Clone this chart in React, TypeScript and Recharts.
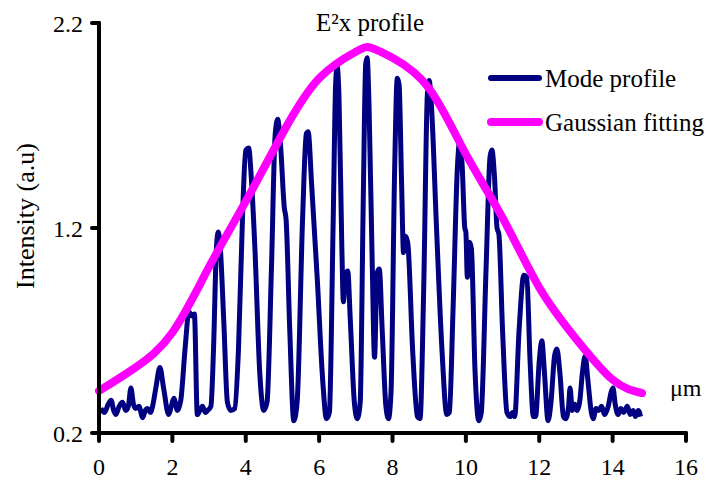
import React from 'react';
import { LineChart, Line, XAxis, YAxis } from 'recharts';

// Measured mode profile (position in µm, intensity in a.u.)
const modeX = [
  0.05, 0.15, 0.25, 0.33, 0.4, 0.46, 0.55, 0.64, 0.73, 0.8, 0.87, 0.94, 1.0, 1.09, 1.19, 1.26, 1.32, 1.4, 1.46,
  1.55, 1.66, 1.76, 1.9, 1.97, 2.04, 2.14, 2.23, 2.35, 2.45, 2.55, 2.6, 2.68, 2.75, 2.82, 2.9, 2.96, 3.05,
  3.12, 3.2, 3.25, 3.3, 3.4, 3.5, 3.59, 3.7, 3.8, 3.92, 4.0, 4.08, 4.15, 4.25, 4.38, 4.49, 4.58, 4.7, 4.8,
  4.87, 4.95, 5.05, 5.1, 5.2, 5.31, 5.4, 5.55, 5.65, 5.7, 5.8, 5.95, 6.1, 6.2, 6.28, 6.38, 6.45, 6.49, 6.54,
  6.62, 6.66, 6.72, 6.78, 6.85, 6.96, 7.04, 7.12, 7.2, 7.27, 7.31, 7.36, 7.45, 7.51, 7.58, 7.64, 7.72, 7.82,
  7.89, 7.96, 8.06, 8.13, 8.18, 8.25, 8.3, 8.36, 8.42, 8.55, 8.68, 8.75, 8.85, 8.95, 9.0, 9.06, 9.2, 9.35,
  9.48, 9.55, 9.65, 9.77, 9.83, 9.9, 9.97, 10.0, 10.04, 10.1, 10.15, 10.25, 10.35, 10.42, 10.55, 10.66,
  10.71, 10.78, 10.85, 10.9, 11.0, 11.12, 11.21, 11.27, 11.33, 11.45, 11.58, 11.66, 11.75, 11.84, 11.9,
  12.0, 12.07, 12.14, 12.24, 12.32, 12.42, 12.48, 12.56, 12.66, 12.72, 12.8, 12.84, 12.9, 12.97, 13.03,
  13.1, 13.18, 13.25, 13.33, 13.42, 13.47, 13.55, 13.62, 13.7, 13.78, 13.88, 13.96, 14.01, 14.07, 14.15,
  14.22, 14.3, 14.4, 14.48, 14.56, 14.62, 14.7, 14.76,
];
const modeY = [
  0.32, 0.3, 0.34, 0.36, 0.31, 0.29, 0.33, 0.35, 0.31, 0.33, 0.42, 0.34, 0.32, 0.33, 0.275, 0.31, 0.32, 0.3, 0.33,
  0.42, 0.52, 0.42, 0.29, 0.33, 0.37, 0.31, 0.36, 0.62, 0.79, 0.77, 0.78, 0.29, 0.31, 0.33, 0.3, 0.31, 0.33,
  0.6, 1.1, 1.18, 1.12, 0.75, 0.35, 0.31, 0.32, 0.6, 1.3, 1.58, 1.59, 1.45, 1.1, 0.5, 0.31, 0.35, 1.0, 1.65,
  1.73, 1.6, 1.3, 1.24, 0.7, 0.26, 0.35, 1.25, 1.66, 1.67, 1.4, 0.95, 0.45, 0.27, 0.3, 1.2, 1.9, 1.99, 1.85,
  1.1, 0.84, 0.97, 0.99, 0.75, 0.35, 0.27, 0.35, 1.3, 2.0, 2.03, 1.8, 1.0, 0.57, 0.98, 1.0, 0.7, 0.33,
  0.27, 0.4, 1.5, 1.93, 1.9, 1.4, 1.08, 1.16, 1.12, 0.6, 0.28, 0.27, 0.9, 1.85, 1.92, 1.8, 1.2, 0.6,
  0.29, 0.3, 0.8, 1.5, 1.62, 1.5, 1.2, 1.18, 0.96, 1.13, 1.1, 0.5, 0.26, 0.3, 1.0, 1.55,
  1.58, 1.45, 1.2, 1.17, 0.7, 0.3, 0.28, 0.3, 0.28, 0.7, 0.97, 0.96, 0.55, 0.28, 0.28,
  0.55, 0.65, 0.5, 0.26, 0.35, 0.58, 0.61, 0.5, 0.28, 0.27, 0.33, 0.42, 0.31, 0.34, 0.31,
  0.35, 0.5, 0.575, 0.45, 0.3, 0.27, 0.32, 0.31, 0.33, 0.29, 0.33, 0.4, 0.42, 0.34, 0.29,
  0.32, 0.3, 0.33, 0.29, 0.31, 0.28, 0.31, 0.28,
];

// Gaussian fit of the profile
const fitX = [0, 1, 2, 3, 4, 5, 6, 7, 7.4, 8, 9, 10, 11, 12, 13, 14, 14.8];
const fitY = [0.405, 0.52, 0.69, 1.01, 1.33, 1.66, 1.93, 2.06, 2.08, 2.03, 1.88, 1.56, 1.25, 0.91, 0.66, 0.46, 0.395];

const xTicks = [0, 2, 4, 6, 8, 10, 12, 14, 16];
const yTicks = [0.2, 1.2, 2.2];

const modeData = modeX.map((x, i) => ({ x, y: modeY[i] }));
const fitData = fitX.map((x, i) => ({ x, y: fitY[i] }));

const FONT = "'Liberation Serif', 'Times New Roman', serif";
const NAVY = '#000080';
const MAGENTA = '#FF00FF';
const tickStyle = { fontFamily: FONT, fontSize: 24, fill: '#000' };
const textStyle = { fontFamily: FONT, fontSize: 25, fill: '#000' };
const axisTitleStyle = { fontFamily: FONT, fontSize: 26, fill: '#000' };

export default function App() {
  return (
    <div
      style={{
        position: 'absolute',
        left: 0,
        top: 0,
        width: 708,
        height: 488,
        background: '#fff',
        fontFamily: FONT,
      }}
    >
      <LineChart width={708} height={488} margin={{ top: 23, right: 22, bottom: 0, left: 0 }}>
        <XAxis
          type="number"
          dataKey="x"
          domain={[0, 16]}
          ticks={xTicks}
          height={55}
          axisLine={{ stroke: '#000', strokeWidth: 4, strokeLinecap: 'round' }}
          tickLine={{ stroke: '#000', strokeWidth: 4, strokeLinecap: 'round' }}
          tickSize={8}
          tickMargin={17}
          tick={{ ...tickStyle, style: tickStyle }}
          allowDuplicatedCategory={false}
        />
        <YAxis
          type="number"
          dataKey="y"
          domain={[0.2, 2.2]}
          ticks={yTicks}
          width={99}
          axisLine={{ stroke: '#000', strokeWidth: 4, strokeLinecap: 'round' }}
          tickLine={{ stroke: '#000', strokeWidth: 4, strokeLinecap: 'round' }}
          tickSize={7}
          tickMargin={9}
          tick={{ ...tickStyle, style: tickStyle }}
          tickFormatter={(v: number) => v.toFixed(1)}
        />
        <Line
          data={modeData}
          dataKey="y"
          type="monotone"
          stroke={NAVY}
          strokeWidth={5}
          strokeLinejoin="round"
          dot={false}
          isAnimationActive={false}
        />
        <Line
          data={fitData}
          dataKey="y"
          type="natural"
          stroke={MAGENTA}
          strokeWidth={8}
          strokeLinecap="round"
          dot={false}
          isAnimationActive={false}
        />
        {/* y-axis title */}
        <text
          x={25}
          y={216}
          transform="rotate(-90 25 216)"
          textAnchor="middle"
          dominantBaseline="central"
          style={axisTitleStyle}
        >
          Intensity (a.u)
        </text>
        <text x={370} y={31} textAnchor="middle" style={textStyle}>
          E²x profile
        </text>
        <text x={670} y={396} style={tickStyle}>
          μm
        </text>
        {/* legend */}
        <g>
          <line x1={491} y1={78} x2={539} y2={78} stroke={NAVY} strokeWidth={6} strokeLinecap="round" />
          <text x={545} y={87} style={textStyle}>Mode profile</text>
          <line x1={491} y1={122} x2={539} y2={122} stroke={MAGENTA} strokeWidth={8} strokeLinecap="round" />
          <text x={545} y={131} style={textStyle}>Gaussian fitting</text>
        </g>
      </LineChart>
    </div>
  );
}
